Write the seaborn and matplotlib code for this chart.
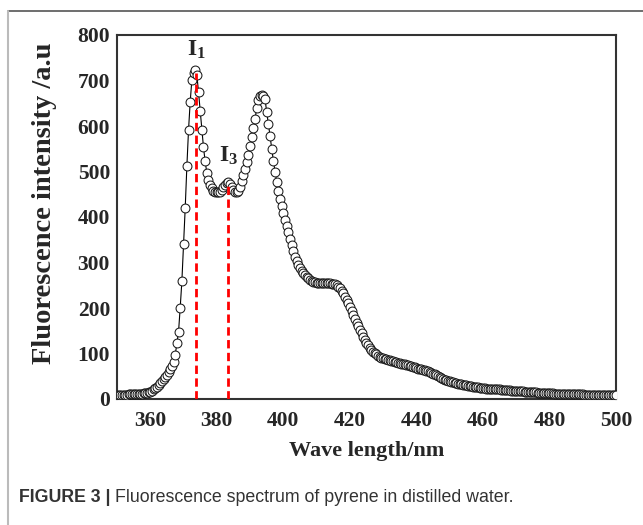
import numpy as np
import pandas as pd
import matplotlib
matplotlib.use("Agg")
import matplotlib.pyplot as plt
import seaborn as sns
from matplotlib.lines import Line2D

# ---------------- data ----------------
wavelength = np.arange(350.0, 500.01, 0.5)
intensity = [
    8, 8, 9, 9, 9, 9, 9, 10, 10, 10,
    10, 11, 11, 11, 12, 12, 13, 13, 14, 15,
    16, 18, 21, 24, 27, 31, 35, 39, 43, 48,
    53, 59, 65, 72, 82, 97, 122, 148, 201, 259,
    340, 419, 511, 591, 653, 701, 716, 722, 712, 675,
    634, 591, 553, 522, 497, 481, 470, 463, 458, 455,
    454, 454, 456, 460, 465, 471, 475, 476, 473, 467,
    460, 455, 454, 458, 467, 480, 492, 505, 520, 537,
    556, 575, 595, 615, 640, 657, 666, 668, 667, 660,
    630, 605, 578, 550, 524, 500, 478, 458, 440, 424,
    408, 394, 380, 366, 352, 338, 325, 313, 303, 294,
    287, 281, 276, 272, 268, 265, 262, 260, 258, 257,
    256, 255, 254, 254, 254, 254, 255, 255, 254, 253,
    253, 252, 250, 247, 243, 238, 232, 225, 218, 211,
    203, 194, 185, 176, 168, 160, 152, 144, 137, 130,
    124, 118, 113, 108, 104, 101, 98, 95, 93, 91,
    90, 88, 87, 86, 85, 84, 83, 82, 81, 80,
    79, 78, 77, 76, 75, 74, 73, 72, 71, 70,
    68, 67, 66, 65, 64, 63, 62, 61, 59, 58,
    56, 54, 52, 50, 48, 46, 44, 42, 41, 40,
    39, 38, 37, 36, 35, 34, 33, 32, 31, 31,
    30, 29, 29, 28, 27, 27, 26, 26, 25, 25,
    24, 24, 23, 23, 23, 22, 22, 22, 21, 21,
    21, 20, 20, 20, 19, 19, 19, 18, 18, 18,
    18, 17, 17, 17, 17, 16, 16, 16, 16, 15,
    15, 15, 15, 14, 14, 14, 14, 14, 13, 13,
    13, 13, 13, 12, 12, 12, 12, 12, 11, 11,
    11, 11, 11, 11, 10, 10, 10, 10, 10, 10,
    10, 9, 9, 9, 9, 9, 9, 9, 9, 8,
    8, 8, 8, 8, 8, 8, 8, 8, 8, 8,
    8,
]
peak_labels = ["I_1", "I_3"]
peak_positions = [373.7, 383.3]
peak_heights = [716, 468]
label_positions_x = [374.0, 383.6]
label_positions_y = [767, 534]

x_ticks = [360, 380, 400, 420, 440, 460, 480, 500]
y_ticks = [0, 100, 200, 300, 400, 500, 600, 700, 800]

df = pd.DataFrame({"wavelength": wavelength, "intensity": intensity})

# ---------------- style ----------------
sns.set_theme(style="white")
plt.rcParams["font.family"] = ["Liberation Serif", "DejaVu Serif"]
plt.rcParams["xtick.direction"] = "in"
plt.rcParams["ytick.direction"] = "in"

fig = plt.figure(figsize=(6.43, 5.25), dpi=100)
ax = fig.add_axes([117 / 643, 1 - 399 / 525, (616 - 117) / 643, (399 - 35) / 525])

sns.lineplot(data=df, x="wavelength", y="intensity", ax=ax,
             color="black", linewidth=0.8, marker="o", markersize=6.4,
             markerfacecolor="white", markeredgecolor="#1a1a1a",
             markeredgewidth=0.75, zorder=3)

ax.vlines(peak_positions, 0, peak_heights, colors="red", linewidth=2.0,
          linestyles=(0, (3, 1.6)), zorder=4)

for lab, lx, ly in zip(peak_labels, label_positions_x, label_positions_y):
    ax.text(lx, ly, r"$\mathregular{%s}$" % lab, fontsize=17, fontweight="bold",
            family="Liberation Serif", ha="center", va="center", zorder=5)

ax.set_xlim(350, 500)
ax.set_ylim(0, 800)
ax.set_xticks(x_ticks)
ax.set_yticks(y_ticks)
ax.set_xticks(np.arange(350, 501, 10), minor=True)
ax.set_yticks(np.arange(0, 801, 50), minor=True)
ax.tick_params(axis="both", which="major", length=5, width=1.2, color="#333333",
               labelsize=15.5, top=False, right=False)
ax.tick_params(axis="x", which="major", pad=9)
ax.tick_params(axis="y", which="major", pad=5)
ax.tick_params(axis="both", which="minor", length=3, width=1.0, color="#333333",
               top=False, right=False)
for lbl in ax.get_xticklabels() + ax.get_yticklabels():
    lbl.set_fontweight("bold")

for sp in ax.spines.values():
    sp.set_color("#333333")
    sp.set_linewidth(1.5)

ax.set_xlabel("Wave length/nm", fontsize=16, fontweight="bold")
ax.set_ylabel("Fluorescence intensity /a.u", fontsize=20.5, fontweight="bold")
ax.xaxis.set_label_coords(0.501, -0.143)
ax.yaxis.set_label_coords(-0.146, 0.538)
ax.xaxis.label.set_va("center")
ax.yaxis.label.set_va("center")

# frame of the figure panel
fig.add_artist(Line2D([8 / 643, 1], [1 - 10.5 / 525, 1 - 10.5 / 525],
                      transform=fig.transFigure, color="#555555", lw=1.2))
fig.add_artist(Line2D([8 / 643, 8 / 643], [0, 1 - 10.5 / 525],
                      transform=fig.transFigure, color="#bbbbbb", lw=1.5))

# caption
cap_y = 1 - 498 / 525
t1 = fig.text(19 / 643, cap_y, "FIGURE 3 | ", family="Liberation Sans",
              fontweight="bold", fontsize=12.8, color="#333333", va="center")
fig.canvas.draw()
bb = t1.get_window_extent(renderer=fig.canvas.get_renderer())
fig.text(bb.x1 / fig.bbox.width, cap_y,
         "Fluorescence spectrum of pyrene in distilled water.",
         family="Liberation Sans", fontsize=12.8, color="#333333", va="center")

fig.savefig("out.png", dpi=100)
